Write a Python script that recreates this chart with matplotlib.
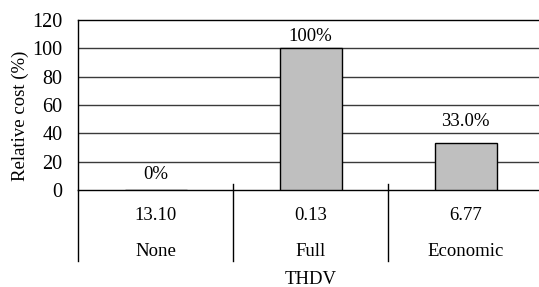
import matplotlib
matplotlib.use("Agg")
import matplotlib.pyplot as plt
import matplotlib.transforms as mtransforms

categories = ["None", "Full", "Economic"]
thdv_values = ["13.10", "0.13", "6.77"]
relative_cost = [0.0, 100.0, 33.0]
value_labels = ["0%", "100%", "33.0%"]
yticks = [0, 20, 40, 60, 80, 100, 120]

plt.rcParams['font.family'] = ['Liberation Serif', 'DejaVu Serif']
FS = 13.5
FS_TICK = 14.5

W, H = 539, 287
fig = plt.figure(figsize=(W / 100, H / 100), dpi=100)
ax_left, ax_right, ax_top, ax_bottom = 78, 543, 20, 190
ax_w, ax_h = ax_right - ax_left, ax_bottom - ax_top
ax = fig.add_axes([ax_left / W, (H - ax_bottom) / H, ax_w / W, ax_h / H])

x = list(range(len(categories)))
ax.bar(x, relative_cost, width=0.4, color="#bfbfbf", edgecolor="black", linewidth=1.0, zorder=3)
ax.set_xlim(-0.5, len(categories) - 0.5)
ax.set_ylim(0, 120)
ax.set_yticks(yticks)
ax.set_yticklabels([str(t) for t in yticks], fontsize=FS_TICK)
ax.tick_params(axis='y', length=0, pad=11)
ax.set_xticks([])
for g in yticks[1:-1]:
    ax.axhline(g, color="#3a3a3a", linewidth=1.0, zorder=1)

ax.spines["right"].set_visible(False)
for s in ["top", "bottom", "left"]:
    ax.spines[s].set_color("black")
    ax.spines[s].set_linewidth(1.0)

px = 1.0 / ax_h  # axes fraction per pixel (vertical)
trans = mtransforms.blended_transform_factory(ax.transData, ax.transAxes)

# left spine extension below the axis
ax.plot([-0.5, -0.5], [0, -71 * px], transform=trans, color="black", linewidth=1.0, clip_on=False)
# category separators
for sx in [0.5, 1.5]:
    ax.plot([sx, sx], [6 * px, -71 * px], transform=trans, color="black", linewidth=1.0, clip_on=False)

# value labels above bars
label_offsets = [7, 3, 13]
for xi, v, lab, off in zip(x, relative_cost, value_labels, label_offsets):
    ax.annotate(lab, (xi, v), xytext=(0, off), textcoords="offset pixels",
                ha="center", va="bottom", fontsize=FS, zorder=4)

# multi-level category labels
for xi, tv, c in zip(x, thdv_values, categories):
    ax.text(xi, -26 * px, tv, transform=trans, ha="center", va="center", fontsize=FS)
    ax.text(xi, -61 * px, c, transform=trans, ha="center", va="center", fontsize=FS)

ax.text(1, -89 * px, "THDV", transform=trans, ha="center", va="center", fontsize=FS)
ax.set_ylabel("Relative cost (%)", fontsize=13.5)
ax.yaxis.set_label_coords((29 - ax_left) / ax_w, (ax_bottom - 116) / ax_h)

fig.savefig("out.png", dpi=100)
